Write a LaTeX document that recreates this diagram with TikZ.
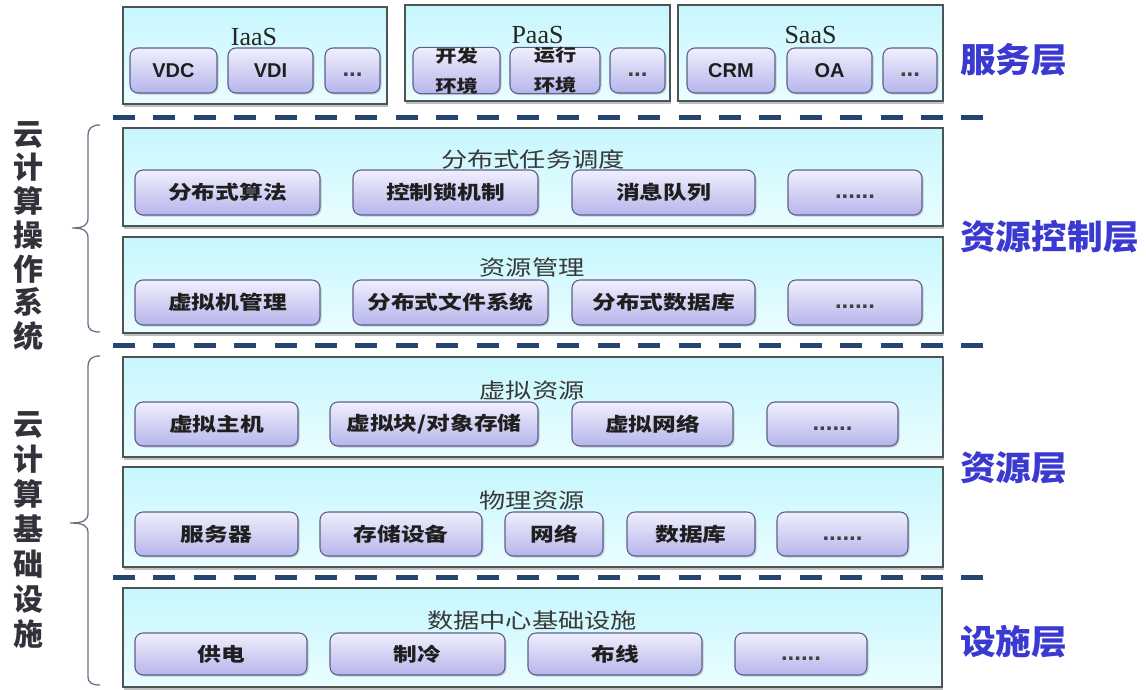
\documentclass[tikz,border=0pt]{standalone}
\usepackage{fontspec}
\usetikzlibrary{shadows}
\setmainfont{Liberation Serif}
\newfontfamily\cjk[FakeStretch=1.25]{Noto Sans CJK SC}
\newfontfamily\cjkw[FakeStretch=1.05]{Noto Sans CJK SC}
\newfontfamily\cjkv{Noto Sans CJK SC}
\newfontfamily\arialf{Liberation Sans}
\definecolor{boxcyanT}{RGB}{198,247,253}
\definecolor{boxcyanB}{RGB}{234,253,255}
\definecolor{boxedge}{RGB}{78,84,84}
\definecolor{subT}{RGB}{240,239,252}
\definecolor{subB}{RGB}{182,181,236}
\definecolor{subedge}{RGB}{95,95,140}
\definecolor{dashc}{RGB}{38,68,112}
\definecolor{layerblue}{RGB}{58,58,210}
\definecolor{sidegray}{RGB}{50,50,58}
\definecolor{bracec}{RGB}{105,115,135}
\tikzset{
  layerbox/.style={draw=boxedge, line width=1.8pt, top color=boxcyanT, bottom color=boxcyanB,
    inner sep=0pt, outer sep=0pt,
    drop shadow={shadow xshift=1pt, shadow yshift=-2.5pt, fill=black!50, opacity=0.5}},
  subbox/.style={draw=subedge, line width=1.1pt, rounded corners=8pt, top color=subT, bottom color=subB,
    inner sep=0pt, minimum height=45pt, text=black!88,
    font=\cjk\bfseries\fontsize{19}{19}\selectfont,
    drop shadow={shadow xshift=1.5pt, shadow yshift=-1.5pt, opacity=0.35}},
  latinsub/.style={subbox, font=\arialf\bfseries\fontsize{20}{20}\selectfont},
  dotsub/.style={subbox, font=\arialf\bfseries\fontsize{24}{24}\selectfont, text=black!75,
    text height=0pt, text depth=0pt},
  toplbl/.style={anchor=base, inner sep=0pt, font=\fontsize{26}{26}\selectfont, text=black!85},
  lbl/.style={anchor=base, inner sep=0pt, font=\cjk\fontsize{21}{21}\selectfont, text=black!78},
  rlbl/.style={anchor=west, inner sep=0pt, font=\cjkw\bfseries\fontsize{34}{34}\selectfont, text=layerblue},
  sidelbl/.style={inner sep=0pt, align=center, text=sidegray},
  sepline/.style={draw=dashc, line width=5pt, dash pattern=on 22pt off 18.4pt},
  bracel/.style={draw=bracec, line width=1.3pt}
}
\newcommand{\lowdots}[1]{\raisebox{-6pt}{#1}}
\begin{document}
\begin{tikzpicture}[x=1pt,y=-1pt]
\useasboundingbox[fill=white] (0,0) rectangle (1146,689);

% ---------- service layer ----------
\node[layerbox, minimum width=264pt, minimum height=97pt] (iaas) at (255,55.5) {};
\node[layerbox, minimum width=265pt, minimum height=96pt] (paas) at (537.5,53) {};
\node[layerbox, minimum width=265pt, minimum height=96pt] (saas) at (810.5,53) {};
\node[toplbl] (iaasl) at (254,45) {IaaS};
\node[toplbl] (paasl) at (537.5,43) {PaaS};
\node[toplbl] (saasl) at (810.5,43) {SaaS};
\node[latinsub, minimum width=87pt] (vdc) at (173.5,70.5) {VDC};
\node[latinsub, minimum width=85pt] (vdi) at (270.5,70.5) {VDI};
\node[dotsub, minimum width=55pt] (idots) at (352.5,70.5) {\lowdots{...}};
\node[subbox, minimum width=87pt, align=center, font=\cjk\bfseries\fontsize{17}{30}\selectfont] (dev) at (456.5,70.5) {开发\\环境};
\node[subbox, minimum width=90pt, align=center, font=\cjk\bfseries\fontsize{17}{30}\selectfont] (run) at (555,70.5) {运行\\环境};
\node[dotsub, minimum width=55pt] (pdots) at (637.5,70.5) {\lowdots{...}};
\node[latinsub, minimum width=88pt] (crm) at (731,70.5) {CRM};
\node[latinsub, minimum width=85pt] (oa) at (829.5,70.5) {OA};
\node[dotsub, minimum width=54pt] (sdots) at (910,70.5) {\lowdots{...}};

% ---------- resource control layer ----------
\node[layerbox, minimum width=820pt, minimum height=98pt] (sched) at (533,177) {};
\node[lbl] (schedl) at (533,167) {分布式任务调度};
\node[subbox, minimum width=185pt] (algo) at (227.5,192.5) {分布式算法};
\node[subbox, minimum width=185pt] (lock) at (445.5,192.5) {控制锁机制};
\node[subbox, minimum width=183pt] (mq) at (663.5,192.5) {消息队列};
\node[dotsub, minimum width=134pt] (d1) at (855,192.5) {\lowdots{......}};

\node[layerbox, minimum width=820pt, minimum height=96pt] (resm) at (533,285) {};
\node[lbl] (resml) at (532,275) {资源管理};
\node[subbox, minimum width=185pt] (vmm) at (227.5,302.5) {虚拟机管理};
\node[subbox, minimum width=195pt] (dfs) at (450.5,302.5) {分布式文件系统};
\node[subbox, minimum width=183pt] (ddb) at (663.5,302.5) {分布式数据库};
\node[dotsub, minimum width=134pt] (d2) at (855,302.5) {\lowdots{......}};

% ---------- resource layer ----------
\node[layerbox, minimum width=820pt, minimum height=100pt] (virt) at (533,407) {};
\node[lbl] (virtl) at (532,398) {虚拟资源};
\node[subbox, minimum width=163pt, minimum height=44pt] (vhost) at (216.5,424) {虚拟主机};
\node[subbox, minimum width=208pt, minimum height=44pt] (vstore) at (434,424) {虚拟块/对象存储};
\node[subbox, minimum width=161pt, minimum height=44pt] (vnet) at (652.5,424) {虚拟网络};
\node[dotsub, minimum width=131pt, minimum height=44pt] (d3) at (832.5,424) {\lowdots{......}};

\node[layerbox, minimum width=820pt, minimum height=100pt] (phys) at (533,517) {};
\node[lbl] (physl) at (532,508) {物理资源};
\node[subbox, minimum width=163pt, minimum height=44pt] (server) at (216.5,534) {服务器};
\node[subbox, minimum width=162pt, minimum height=44pt] (stor) at (401,534) {存储设备};
\node[subbox, minimum width=98pt, minimum height=44pt] (net) at (554,534) {网络};
\node[subbox, minimum width=128pt, minimum height=44pt] (db) at (691,534) {数据库};
\node[dotsub, minimum width=131pt, minimum height=44pt] (d4) at (842.5,534) {\lowdots{......}};

% ---------- facility layer ----------
\node[layerbox, minimum width=819pt, minimum height=99pt] (dc) at (532.5,637.5) {};
\node[lbl] (dcl) at (532,628) {数据中心基础设施};
\node[subbox, minimum width=172pt, minimum height=42pt] (power) at (221,654) {供电};
\node[subbox, minimum width=175pt, minimum height=42pt] (cool) at (417.5,654) {制冷};
\node[subbox, minimum width=174pt, minimum height=42pt] (wire) at (615,654) {布线};
\node[dotsub, minimum width=132pt, minimum height=42pt] (d5) at (801,654) {\lowdots{......}};

% ---------- separators ----------
\coordinate (s1a) at (113,117); \coordinate (s1b) at (984,117);
\coordinate (s2a) at (113,345); \coordinate (s2b) at (984,345);
\coordinate (s3a) at (113,577); \coordinate (s3b) at (984,577);
\draw[sepline] (s1a) -- (s1b);
\draw[sepline] (s2a) -- (s2b);
\draw[sepline] (s3a) -- (s3b);

% ---------- right labels ----------
\node[rlbl] (svc) at (960,60) {服务层};
\node[rlbl] (ctl) at (960,237) {资源控制层};
\node[rlbl] (res) at (960,468) {资源层};
\node[rlbl] (fac) at (960,642) {设施层};

% ---------- left labels and braces ----------
\node[sidelbl, font=\cjkv\bfseries\fontsize{30}{33.7}\selectfont] (os) at (28,236) {云\\计\\算\\操\\作\\系\\统};
\node[sidelbl, font=\cjkv\bfseries\fontsize{30}{35}\selectfont] (infra) at (28,530) {云\\计\\算\\基\\础\\设\\施};

\coordinate (b1t) at (100,125); \coordinate (b1m) at (72,228); \coordinate (b1b) at (100,332);
\draw[bracel] (b1t) .. controls (92,125) and (88,128) .. (88,136) -- (88,218)
  .. controls (88,225) and (84,228) .. (b1m)
  .. controls (84,228) and (88,231) .. (88,238) -- (88,323)
  .. controls (88,330) and (92,332) .. (b1b);
\coordinate (b2t) at (100,356); \coordinate (b2m) at (70,523); \coordinate (b2b) at (100,685);
\draw[bracel] (b2t) .. controls (92,356) and (88,359) .. (88,367) -- (88,513)
  .. controls (88,520) and (84,523) .. (b2m)
  .. controls (84,523) and (88,526) .. (88,533) -- (88,676)
  .. controls (88,683) and (92,685) .. (b2b);
\end{tikzpicture}
\end{document}
